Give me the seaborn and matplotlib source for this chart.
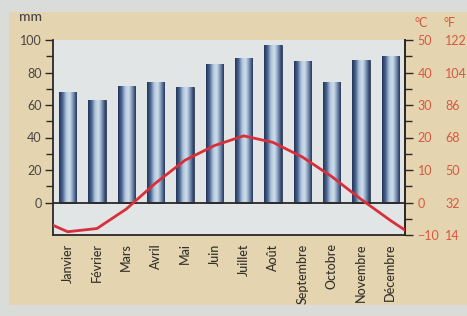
import numpy as np
import matplotlib
matplotlib.use('Agg')
import matplotlib.pyplot as plt
from matplotlib.colors import LinearSegmentedColormap
from matplotlib.patches import Rectangle
import seaborn as sns

# climate data
months = ['Janvier', 'Février', 'Mars', 'Avril', 'Mai', 'Juin', 'Juillet',
          'Août', 'Septembre', 'Octobre', 'Novembre', 'Décembre']
precip_mm = [68, 63, 72, 74, 71, 85, 89, 97, 87, 74, 88, 90]
temp_c = [-9, -8, -2, 6, 13, 17.5, 20.5, 18.5, 14, 8, 1, -5.5]
temp_edges = [-7, -8.5]  # curve continues to the plot edges

mm_ticks = [0, 20, 40, 60, 80, 100]
c_ticks = [-10, 0, 10, 20, 30, 40, 50]
f_ticks = [14, 32, 50, 68, 86, 104, 122]

sns.set_style('white')
plt.rcParams['font.family'] = ['Lato', 'DejaVu Sans']

dark = '#2b2826'
red = '#d8303a'
label_red = '#d9573f'

fig = plt.figure(figsize=(4.67, 3.16), dpi=100, facecolor='#d9dcd8')
fig.patches.append(Rectangle((9 / 467, 1 - 305 / 316), 1, 293 / 316,
                             transform=fig.transFigure, facecolor='#e4d5b0',
                             edgecolor='none', zorder=-10))

ax = fig.add_axes([53 / 467, 1 - 235 / 316, 352 / 467, 195 / 316])
ax.set_facecolor('#e2e5e6')

sns.barplot(x=months, y=precip_mm, ax=ax, width=0.58, color='#4a6285',
            saturation=1, zorder=2)

# cylinder-like shading on each bar
cmap = LinearSegmentedColormap.from_list(
    'cyl', ['#22335a', '#4a6590', '#b4c9de', '#cfdeeb', '#7892b5', '#24365a'])
grad = np.linspace(0, 1, 64).reshape(1, -1)
for bar in list(ax.patches):
    x0, y0 = bar.get_x(), bar.get_y()
    w, h = bar.get_width(), bar.get_height()
    im = ax.imshow(grad, extent=[x0, x0 + w, y0, y0 + h], aspect='auto',
                   cmap=cmap, zorder=2.1, interpolation='bicubic')
    im.set_clip_path(bar)
    bar.set_edgecolor('#1e2a40')
    bar.set_linewidth(0.5)

ax.axhline(0, color=dark, lw=1.3, zorder=3)
ax.set_xlim(-0.5, 11.5)
ax.set_ylim(-20, 100)
ax.set_yticks(mm_ticks)
ax.set_yticks([10, 30, 50, 70, 90], minor=True)
ax.set_xticks(range(12))
ax.set_xticklabels(months, rotation=90, fontsize=9, color='#35302c',
                   fontweight='medium')
ax.set_xticks(np.arange(0.5, 11, 1), minor=True)
ax.tick_params(axis='x', which='major', length=0, pad=6)
ax.tick_params(axis='x', which='minor', length=6, width=1, color=dark)
ax.tick_params(axis='y', which='both', length=6, width=1, color=dark,
               labelcolor='#4a4545', labelsize=9, pad=2, left=True)
ax.tick_params(axis='y', which='minor', length=5)
ax.set_xlabel('')
ax.set_ylabel('')
for s in ['left', 'bottom', 'right']:
    ax.spines[s].set_color(dark)
    ax.spines[s].set_linewidth(1.3)
ax.spines['top'].set_visible(False)

# temperature on the right axis
ax2 = ax.twinx()
line_x = [-0.5] + list(range(12)) + [11.5]
line_y = [temp_edges[0]] + temp_c + [temp_edges[1]]
sns.lineplot(x=line_x, y=line_y, ax=ax2, color=red, lw=2, sort=False,
             zorder=5)
ax2.set_ylim(-10, 50)
ax2.set_yticks(c_ticks)
ax2.set_yticks(np.arange(-5, 50, 10), minor=True)
ax2.tick_params(axis='y', which='both', length=6, width=1, color=dark,
                labelcolor=label_red, labelsize=9, pad=3, right=True)
ax2.tick_params(axis='y', which='minor', length=5)
ax2.set_ylabel('')
for s in ['left', 'bottom', 'top']:
    ax2.spines[s].set_visible(False)
ax2.spines['right'].set_color(dark)
ax2.spines['right'].set_linewidth(1.3)

sec = ax2.secondary_yaxis('right', functions=(lambda c: c * 9 / 5 + 32,
                                              lambda f: (f - 32) * 5 / 9))
sec.set_yticks(f_ticks)
sec.tick_params(length=0, pad=29, labelcolor=label_red, labelsize=9)
sec.spines['right'].set_visible(False)

fig.text(30 / 467, 1 - 17 / 316, 'mm', ha='center', va='center',
         fontsize=10, color='#4a4545', fontweight='medium')
fig.text(421 / 467, 1 - 23 / 316, '°C', ha='center', va='center',
         fontsize=9, color=label_red)
fig.text(449 / 467, 1 - 23 / 316, '°F', ha='center', va='center',
         fontsize=9, color=label_red)

fig.savefig('out.png', dpi=100, facecolor=fig.get_facecolor())
